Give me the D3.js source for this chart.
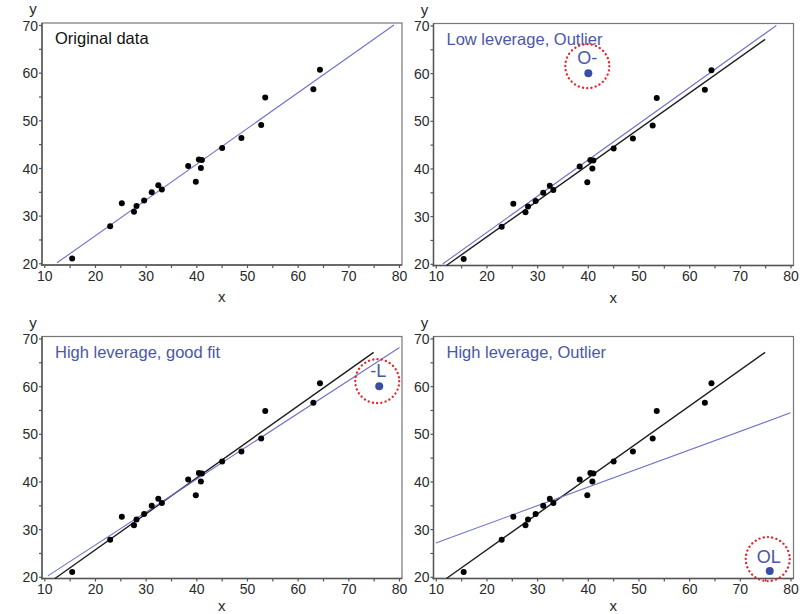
<!DOCTYPE html>
<html>
<head>
<meta charset="utf-8">
<script src="https://cdn.jsdelivr.net/npm/d3@7"></script>
<style>
  body { margin: 0; background: #fff; }
  svg { font-family: "Liberation Sans", Arial, sans-serif; }
</style>
</head>
<body>
<div id="chart"></div>
<script>
// data
const xVals = [15.5, 23.0, 25.3, 27.7, 28.2, 29.7, 31.2, 32.5, 33.2, 38.4, 39.9, 40.5, 41.1, 40.9, 45.1, 48.9, 52.8, 53.6, 63.1, 64.4];
const yVals = [21.0, 27.8, 32.6, 30.8, 32.0, 33.2, 34.9, 36.4, 35.5, 40.4, 37.1, 41.8, 41.7, 40.0, 44.2, 46.3, 49.0, 54.8, 56.5, 60.6];

const titles = ["Original data", "Low leverage, Outlier", "High leverage, good fit", "High leverage, Outlier"];

// fitted line end points [x0, y0, x1, y1]
const originalFit = [12.1, 19.65, 75.0, 67.1];
const panelFits = [
  [12.5, 20.1, 79.0, 70.0],
  [11.4, 20.0, 77.2, 70.0],
  [10.7, 20.2, 80.1, 68.1],
  [10.0, 27.1, 80.0, 54.4]
];

// extra point per panel (null for the first)
const extraX = [null, 40.1, 76.1, 75.9];
const extraY = [null, 60.0, 60.0, 21.2];
const extraLabels = [null, "O-", "-L", "OL"];

const xTicks = [10, 20, 30, 40, 50, 60, 70, 80];
const yTicks = [20, 30, 40, 50, 60, 70];
const xMinor = [15, 25, 35, 45, 55, 65, 75];
const yMinor = [25, 35, 45, 55, 65];

// layout
const W = 808, H = 614;
const frameW = 360, frameH = 242;
const origins = [[42, 23], [433.5, 23.5], [42, 336.5], [433.5, 336.5]];
// circle centre offsets from the point, label offsets (px)
const calloutOffsets = [null, { cx: -1, cy: -7, ly: -9 }, { cx: -2, cy: -5, ly: -9 }, { cx: -2, cy: -12, ly: -8 }];

const blueText = "#4b56a8";
const blueLine = "#6e72c8";
const bluePoint = "#3a4ea6";
const axisColor = "#555";

const svg = d3.select("#chart").append("svg")
  .attr("width", W)
  .attr("height", H);

const xScale = d3.scaleLinear().domain([10, 80]).range([2.3, 357]);
const yScale = d3.scaleLinear().domain([20, 70]).range([240.3, 2]);

const pts = xVals.map((x, i) => ({ x: x, y: yVals[i] }));

origins.forEach((o, p) => {
  const g = svg.append("g").attr("transform", "translate(" + o[0] + "," + o[1] + ")");

  // frame
  g.append("rect")
    .attr("x", 0).attr("y", 0)
    .attr("width", frameW).attr("height", frameH)
    .attr("fill", "none")
    .attr("stroke", "#777")
    .attr("stroke-width", 1.2);

  // axes
  g.append("g")
    .attr("transform", "translate(0," + frameH + ")")
    .call(d3.axisBottom(xScale).tickValues(xTicks).tickSize(3).tickPadding(3).tickSizeOuter(0));
  g.append("g")
    .attr("transform", "translate(0," + frameH + ")")
    .call(d3.axisBottom(xScale).tickValues(xMinor).tickSize(3).tickFormat("").tickSizeOuter(0));
  const yAxis = g.append("g")
    .call(d3.axisLeft(yScale).tickValues(yTicks).tickSize(3).tickPadding(1).tickSizeOuter(0));
  g.append("g")
    .call(d3.axisLeft(yScale).tickValues(yMinor).tickSize(3).tickFormat("").tickSizeOuter(0));

  g.selectAll(".domain").remove();
  g.selectAll(".tick line").attr("stroke", axisColor).attr("stroke-width", 1.2);
  g.selectAll(".tick text")
    .attr("fill", "#2a2a2a")
    .style("font-size", "14px")
    .style("font-family", "Liberation Sans, Arial, sans-serif");
  yAxis.selectAll(".tick text").attr("dy", "0.36em");

  // left and bottom axis lines
  g.append("line").attr("x1", 0).attr("x2", 0).attr("y1", 0).attr("y2", frameH + 1)
    .attr("stroke", axisColor).attr("stroke-width", 1.4);
  g.append("line").attr("x1", -1).attr("x2", frameW).attr("y1", frameH).attr("y2", frameH)
    .attr("stroke", axisColor).attr("stroke-width", 1.4);

  // axis titles
  g.append("text")
    .attr("x", -9).attr("y", -9)
    .attr("text-anchor", "middle")
    .attr("fill", "#2a2a2a")
    .style("font-size", "15px")
    .text("y");
  g.append("text")
    .attr("x", xScale(45)).attr("y", Math.min(frameH + 37, H - o[1] - 3))
    .attr("text-anchor", "middle")
    .attr("fill", "#2a2a2a")
    .style("font-size", "15px")
    .text("x");

  // lines
  if (p > 0) {
    g.append("line")
      .attr("x1", xScale(originalFit[0])).attr("y1", yScale(originalFit[1]))
      .attr("x2", xScale(originalFit[2])).attr("y2", yScale(originalFit[3]))
      .attr("stroke", "#1e1e1e")
      .attr("stroke-width", 1.4);
  }
  const f = panelFits[p];
  g.append("line")
    .attr("x1", xScale(f[0])).attr("y1", yScale(f[1]))
    .attr("x2", xScale(f[2])).attr("y2", yScale(f[3]))
    .attr("stroke", blueLine)
    .attr("stroke-width", 1.1);

  // points
  g.selectAll("circle.pt")
    .data(pts)
    .join("circle")
    .attr("class", "pt")
    .attr("cx", d => xScale(d.x))
    .attr("cy", d => yScale(d.y))
    .attr("r", 3)
    .attr("fill", "#000");

  // title
  g.append("text")
    .attr("x", 13).attr("y", 21)
    .attr("fill", p === 0 ? "#111" : blueText)
    .style("font-size", "16.5px")
    .text(titles[p]);

  // highlighted point
  if (extraX[p] !== null) {
    const off = calloutOffsets[p];
    const px = xScale(extraX[p]), py = yScale(extraY[p]);
    g.append("circle")
      .attr("cx", px).attr("cy", py).attr("r", 4)
      .attr("fill", bluePoint);
    g.append("text")
      .attr("x", px - 1).attr("y", py + off.ly)
      .attr("text-anchor", "middle")
      .attr("fill", blueText)
      .style("font-size", "18px")
      .text(extraLabels[p]);
    g.append("circle")
      .attr("cx", px + off.cx).attr("cy", py + off.cy).attr("r", 22)
      .attr("fill", "none")
      .attr("stroke", "#e8232a")
      .attr("stroke-width", 2.3)
      .attr("stroke-linecap", "round")
      .attr("stroke-dasharray", "0.1 4.2");
  }
});
</script>
</body>
</html>
